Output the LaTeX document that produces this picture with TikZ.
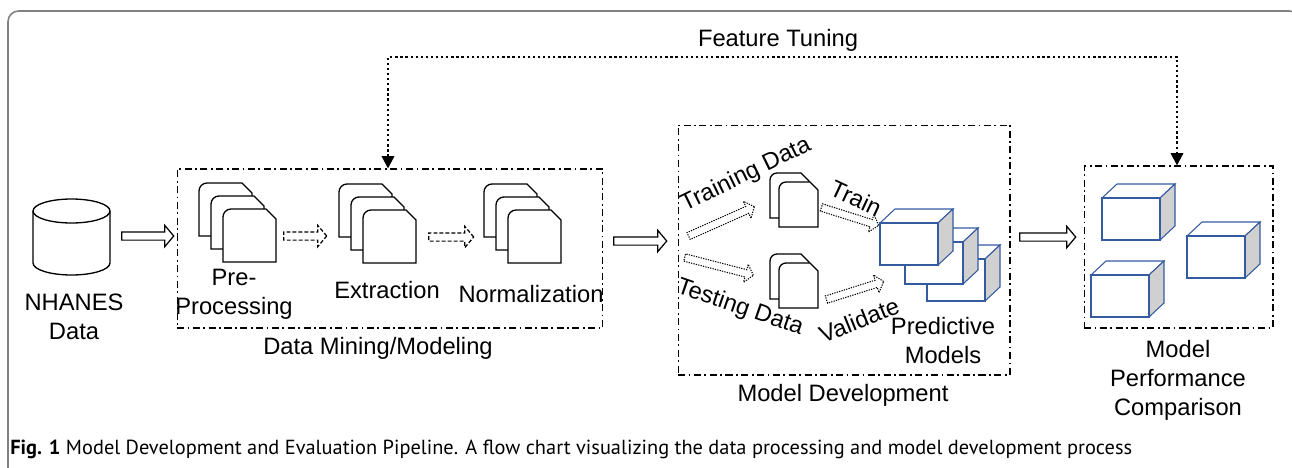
\documentclass[tikz,border=0pt]{standalone}
\usepackage{fontspec}
\setmainfont{Liberation Sans}
\newfontfamily\capfont{PT Sans}
\usetikzlibrary{shapes.arrows,arrows.meta,calc}

\definecolor{cubeblue}{RGB}{52,90,160}
\definecolor{cubeside}{RGB}{208,208,208}
\definecolor{framegray}{RGB}{128,128,128}

\begin{document}
\begin{tikzpicture}[x=0.02cm, y=-0.02cm,
    font=\fontsize{13.5}{16.5}\selectfont,
    docline/.style = {draw, line width=0.75pt},
    cubeline/.style = {draw=cubeblue, line width=0.6pt},
    group/.style = {draw, line width=0.6pt, dash pattern=on 4pt off 2pt on 1pt off 2pt, inner sep=0pt},
    hollow/.style = {single arrow, draw, fill=white, line width=0.7pt, inner xsep=0pt, inner ysep=0.07cm,
        single arrow head extend=0.13cm, single arrow tip angle=100, anchor=center},
    dashedarrow/.style = {hollow, dash pattern=on 2.2pt off 1.2pt},
    dottedarrow/.style = {hollow, line width=0.6pt, inner ysep=0.065cm, single arrow head extend=0.11cm, dash pattern=on 0.7pt off 0.7pt},
    tune/.style = {line width=1.3pt, dash pattern=on 1.3pt off 1.6pt, {Triangle[width=7pt,length=7pt]}-{Triangle[width=7pt,length=7pt]}},
    label/.style = {align=center, inner sep=1pt},
    bigdoc/.pic = {\filldraw[docline, fill=white] (0,53) -- (0,8) to[out=90,in=180] (8,0) -- (43,0) -- (53,10) -- (53,53) -- cycle;},
    smalldoc/.pic = {\filldraw[docline, fill=white] (0,45) -- (0,7) to[out=90,in=180] (7,0) -- (31,0) -- (39,8) -- (39,45) -- cycle;},
    cube/.pic = {
        \filldraw[cubeline, fill=white] (0,0) -- (15,-14) -- (73,-14) -- (58,0) -- cycle;
        \filldraw[cubeline, fill=cubeside] (58,0) -- (73,-14) -- (73,28) -- (58,42) -- cycle;
        \filldraw[cubeline, fill=white] (0,0) rectangle (58,42);
    }]

    \useasboundingbox (0,0) rectangle (1292,467);

    % figure frame
    \draw[framegray, line width=0.9pt, rounded corners=6pt] (8,470) -- (8,11) -- (1300,11) -- (1300,470);

    % database
    \filldraw[docline, fill=white] (33,211) -- (33,263) arc[start angle=180, end angle=360, x radius=0.77cm, y radius=0.24cm] -- (110,211);
    \draw[docline] (71.5,211) ellipse [x radius=0.77cm, y radius=0.24cm];
    \node[label] (nhanes) at (74,317) {NHANES\\Data};

    % groups
    \node[group, minimum width=8.52cm, minimum height=3.18cm] (mining) at (390,248.5) {};
    \node[group, minimum width=6.64cm, minimum height=5cm] (develop) at (844,250) {};
    \node[group, minimum width=3.78cm, minimum height=3.24cm] (perf) at (1178.5,247) {};
    \node[label] (mininglabel) at (378,348) {Data Mining/Modeling};
    \node[label] (developlabel) at (843,395) {Model Development};
    \node[label] (perflabel) at (1178,380) {Model\\Performance\\Comparison};

    % data mining stacks
    \pic at (199,183) {bigdoc};
    \pic at (211,196) {bigdoc};
    \pic at (223,209) {bigdoc};
    \node[label] (preproc) at (234,294) {Pre-\\Processing};

    \pic at (339,184) {bigdoc};
    \pic at (351,197) {bigdoc};
    \pic at (363,210) {bigdoc};
    \node[label] (extract) at (387,290) {Extraction};

    \pic at (484,184) {bigdoc};
    \pic at (496,197) {bigdoc};
    \pic at (508,210) {bigdoc};
    \node[label] (norm) at (531,294) {Normalization};

    % model development
    \pic at (770,173) {smalldoc};
    \pic at (779,182) {smalldoc};
    \pic at (770,254) {smalldoc};
    \pic at (779,263) {smalldoc};

    \pic at (927,259) {cube};
    \pic at (905,242) {cube};
    \pic at (880,223) {cube};
    \node[label] (predict) at (943,341) {Predictive\\Models};

    \node[label, rotate=26] (trainlabel) at (746,175) {Training Data};
    \node[label, rotate=-19] (testlabel) at (740,308) {Testing Data};
    \node[label, rotate=-25] (trainstep) at (856,198) {Train};
    \node[label, rotate=22] (validstep) at (859,320) {Validate};

    % performance comparison
    \pic at (1102,198) {cube};
    \pic at (1187,236) {cube};
    \pic at (1091,275) {cube};

    % block arrows
    \node[hollow, minimum height=1.04cm] (a1) at (146,236) {};
    \node[dashedarrow, minimum height=0.86cm] (a2) at (303.5,236) {};
    \node[dashedarrow, minimum height=0.9cm] (a3) at (449.5,237) {};
    \node[hollow, minimum height=1.06cm] (a4) at (638.5,241) {};
    \node[hollow, minimum height=1.12cm] (a5) at (1046,237) {};

    \node[dottedarrow, minimum height=1.44cm, rotate=24] (a6) at (720,222) {};
    \node[dottedarrow, minimum height=1.42cm, rotate=-14.5] (a7) at (717.5,266) {};
    \node[dottedarrow, minimum height=1.2cm, rotate=-17.5] (a8) at (848.5,216) {};
    \node[dottedarrow, minimum height=1.2cm, rotate=17.5] (a9) at (853.5,291) {};

    % feature tuning loop
    \coordinate (tuneL) at (388,57);
    \coordinate (tuneR) at (1177,57);
    \draw[tune] (mining.north -| tuneL) -- (tuneL) -- (tuneR) -- (perf.north -| tuneR);
    \node[label] (tunelabel) at (778,40) {Feature Tuning};

    % caption
    \node[anchor=west, inner sep=0pt, font=\capfont\fontsize{11.6}{13}\selectfont] (caption) at (10,449)
        {\textbf{Fig. 1} Model Development and Evaluation Pipeline. A flow chart visualizing the data processing and model development process};
\end{tikzpicture}
\end{document}
